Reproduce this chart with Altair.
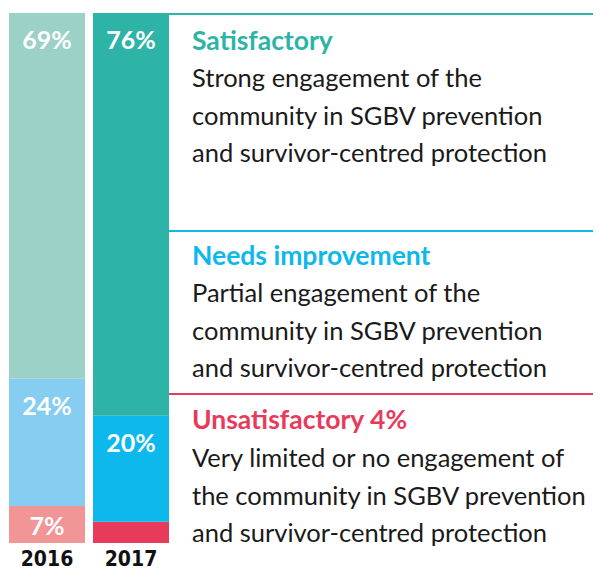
import altair as alt
import pandas as pd

# ---- data ----
years = ["2016", "2016", "2016", "2017", "2017", "2017"]
categories = ["Unsatisfactory", "Needs improvement", "Satisfactory",
              "Unsatisfactory", "Needs improvement", "Satisfactory"]
values = [7, 24, 69, 4, 20, 76]
ranks = [0, 1, 2, 0, 1, 2]
bar_labels = ["7%", "24%", "69%", "4%", "20%", "76%"]
year_labels = ["2016", "2017"]

titles = ["Satisfactory", "Needs improvement", "Unsatisfactory 4%"]
bodies = [
    "Strong engagement of the\ncommunity in SGBV prevention\nand survivor-centred protection",
    "Partial engagement of the\ncommunity in SGBV prevention\nand survivor-centred protection",
    "Very limited or no engagement of\nthe community in SGBV prevention\nand survivor-centred protection",
]

# ---- styles ----
color_domain = ["2016 Satisfactory", "2016 Needs improvement", "2016 Unsatisfactory",
                "2017 Satisfactory", "2017 Needs improvement", "2017 Unsatisfactory"]
color_range = ["#9bd1c7", "#85cdf1", "#f19596", "#2db4a7", "#0cb8ec", "#e83b5b"]
block_colors = ["#2db4a7", "#0cb8ec", "#e83b5b"]
rule_y = [6, 223, 386]
title_y = [42, 257, 421]
body_y = [79, 294, 459]

df = pd.DataFrame(dict(year=years, category=categories, value=values,
                       rank=ranks, label=bar_labels))
df["key"] = df["year"] + " " + df["category"]

xscale = alt.Scale(range=[1, 161], paddingInner=8 / 84, paddingOuter=0)
yscale = alt.Scale(domain=[0, 100], range=[535, 5])

base = alt.Chart(df).transform_stack(
    stack="value", groupby=["year"], as_=["y0", "y1"],
    sort=[alt.SortField("rank", order="ascending")]
)

bars = base.mark_bar().encode(
    x=alt.X("year:N", scale=xscale, axis=None),
    y=alt.Y("y0:Q", scale=yscale, axis=None),
    y2="y1:Q",
    color=alt.Color("key:N", scale=alt.Scale(domain=color_domain, range=color_range), legend=None),
)

labels = base.transform_filter("datum.value > 5").transform_calculate(
    ly="datum.y1 - min(5.3, (datum.y1 - datum.y0) / 2 + 0.5)"
).mark_text(font="Lato", fontSize=25, fontWeight="bold", color="white", baseline="middle").encode(
    x=alt.X("year:N", scale=xscale, axis=None),
    y=alt.Y("ly:Q", scale=yscale, axis=None),
    text="label:N",
)

ydf = pd.DataFrame({"year": year_labels})
years_text = alt.Chart(ydf).mark_text(
    font="'Liberation Sans Narrow', 'DejaVu Sans Condensed', sans-serif",
    fontSize=21, fontWeight="bold", color="#111111", baseline="alphabetic"
).encode(
    x=alt.X("year:N", scale=xscale, axis=None),
    y=alt.value(558),
    text="year:N",
)

layers = [bars, labels, years_text]
for i in range(3):
    d = pd.DataFrame({"title": [titles[i]], "body": [bodies[i]]})
    c = alt.Chart(d)
    layers.append(c.mark_rule(color=block_colors[i], strokeWidth=2).encode(
        x=alt.value(161), x2=alt.value(585), y=alt.value(rule_y[i])))
    layers.append(c.mark_text(font="Lato", fontSize=26.5, fontWeight="bold", color=block_colors[i],
                              align="left", baseline="alphabetic").encode(
        x=alt.value(184), y=alt.value(title_y[i]), text="title:N"))
    layers.append(c.mark_text(font="Lato", fontSize=25.5, color="#1a1a1a", align="left",
                              baseline="alphabetic", lineBreak="\n", lineHeight=37.5).encode(
        x=alt.value(184), y=alt.value(body_y[i]), text="body:N"))

chart = alt.layer(*layers).properties(
    width=585, height=563, padding=0,
    autosize=alt.AutoSizeParams(type="none"),
).configure_view(stroke=None)

chart.save("out.html", embed_options={"renderer": "svg", "actions": False})
